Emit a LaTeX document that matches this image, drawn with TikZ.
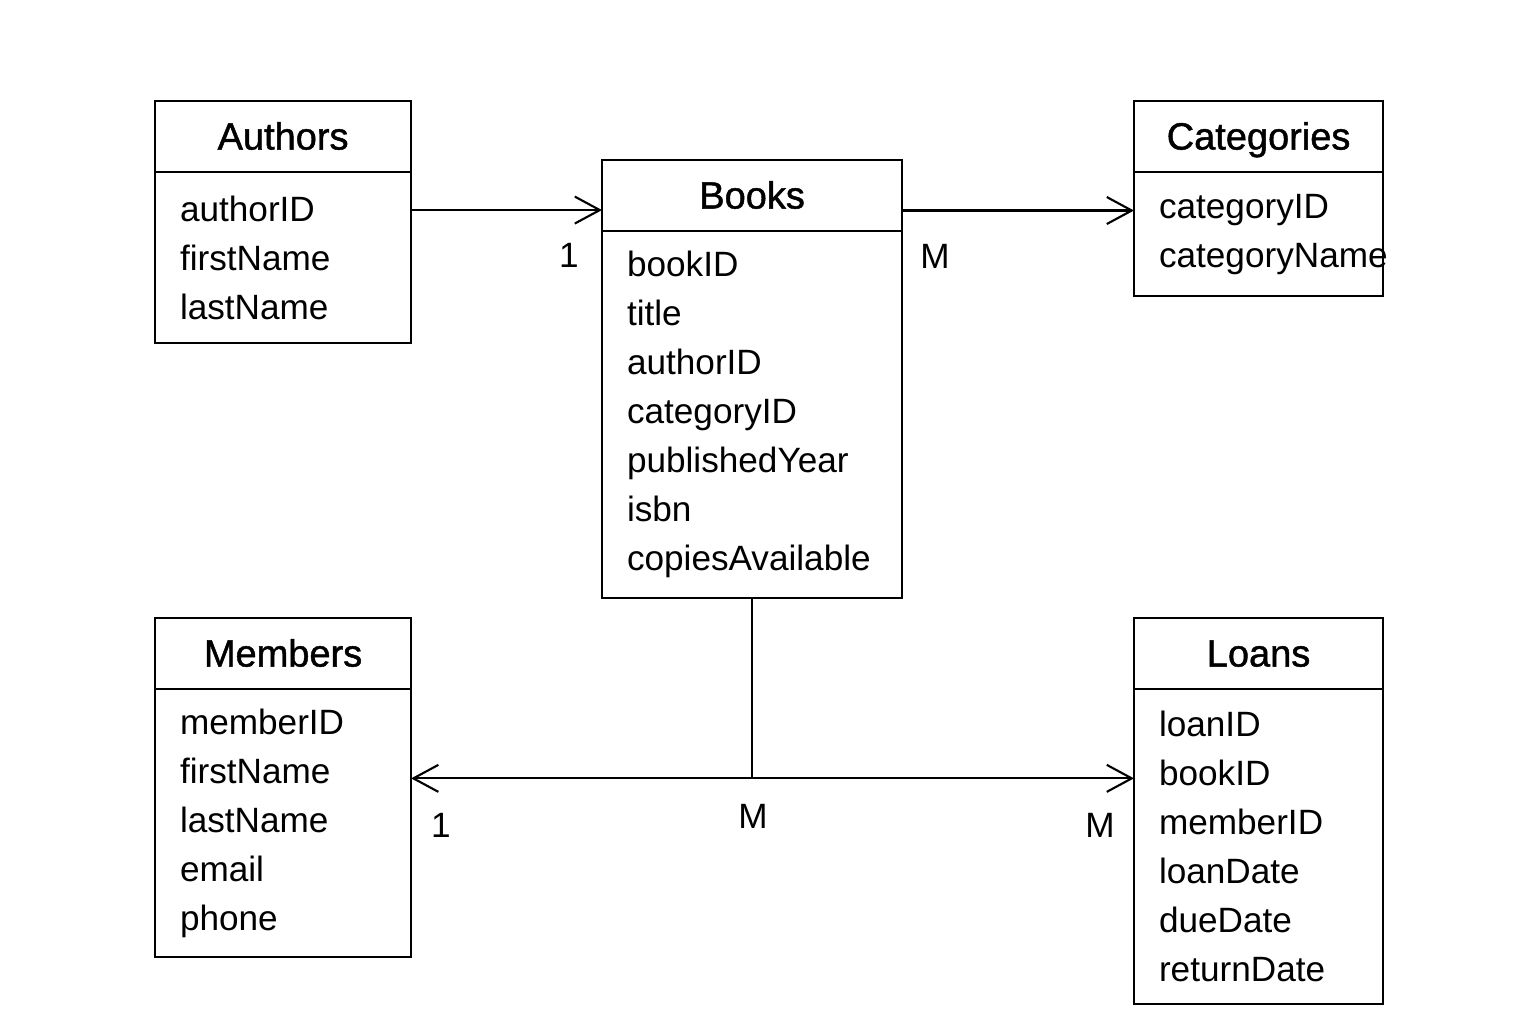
\documentclass[tikz,border=0pt]{standalone}
\usepackage{fontspec}
\setmainfont{Liberation Sans}
\newfontfamily\headfont[FakeBold=1.2]{Liberation Sans}
\usetikzlibrary{arrows.meta,positioning}

\tikzset{%
  entity/.style={
    draw, line width=0.65pt,
    minimum height=0.71cm,
    inner sep=0pt, outer sep=0pt,
    text height=0.27cm, text depth=0.01cm,
    font=\headfont\fontsize{10.8pt}{13pt}\selectfont
  },
  attributes/.style={
    draw, line width=0.65pt,
    inner xsep=0.25cm, inner ysep=0pt, outer sep=0pt,
    align=left,
    font=\fontsize{10pt}{0.49cm}\selectfont
  },
  card/.style={font=\fontsize{10pt}{12pt}\selectfont},
}

\begin{document}
\begin{tikzpicture}[x=0.01cm, y=-0.01cm, line width=0.6pt,
    >={Straight Barb[length=0.25cm,width=0.27cm]}]
  \useasboundingbox (0,0) rectangle (1536,1024);

  % draw entities
  % authors
  \node [entity, anchor=north west, minimum width=2.56cm] (authors) at (155,101) {Authors};
  \node [attributes, text width=2.06cm, minimum height=1.71cm, below=0pt of authors] (authors-attr)
    {authorID\\ firstName\\ lastName};
  % books
  \node [entity, anchor=north west, minimum width=3.00cm] (books) at (602,160) {Books};
  \node [attributes, text width=2.50cm, minimum height=3.67cm, below=0pt of books] (books-attr)
    {bookID\\ title\\ authorID\\ categoryID\\ publishedYear\\ isbn\\ copiesAvailable};
  % categories
  \node [entity, anchor=north west, minimum width=2.49cm] (categories) at (1134,101) {Categories};
  \node [attributes, text width=1.99cm, minimum height=1.24cm, below=0pt of categories] (categories-attr)
    {categoryID\\ categoryName};
  % members
  \node [entity, anchor=north west, minimum width=2.56cm] (members) at (155,618) {Members};
  \node [attributes, text width=2.06cm, minimum height=2.68cm, below=0pt of members] (members-attr)
    {memberID\\ firstName\\ lastName\\ email\\ phone};
  % loans
  \node [entity, anchor=north west, minimum width=2.49cm] (loans) at (1134,618) {Loans};
  \node [attributes, text width=1.99cm, minimum height=3.15cm, below=0pt of loans] (loans-attr)
    {loanID\\ bookID\\ memberID\\ loanDate\\ dueDate\\ returnDate};

  % draw relationships
  \coordinate (authors-out) at ([yshift=-0.38cm]authors-attr.north east);
  \draw [->] (authors-out) -- (authors-out -| books.west);
  \coordinate (books-out) at ([yshift=-0.15cm]books.east);
  \draw [->] (books-out) -- (books-out -| categories-attr.west);

  \coordinate (hub) at ([yshift=-1.8cm]books-attr.south);
  \draw (books-attr.south) -- (hub);
  \draw [->] (hub) -- (hub -| members-attr.east);
  \draw [->] (hub) -- (hub -| loans-attr.west);

  % multiplicities
  \node [card] (card-authors) at (569,255) {1};
  \node [card] (card-categories) at (935,256) {M};
  \node [card] (card-members) at (441,825) {1};
  \node [card] (card-hub) at (753,816) {M};
  \node [card] (card-loans) at (1100,825) {M};

\end{tikzpicture}
\end{document}
